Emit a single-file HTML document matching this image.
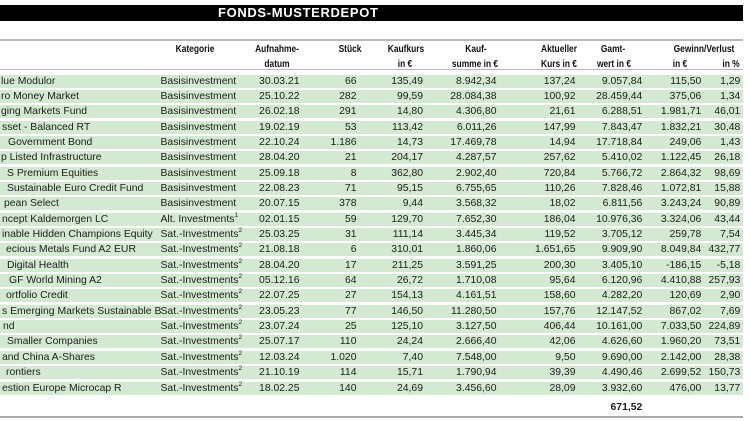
<!DOCTYPE html>
<html>
<head>
<meta charset="utf-8">
<style>
  html, body { margin:0; padding:0; background:#fff; }
  body { width:750px; height:421px; position:relative; overflow:hidden;
         font-family:"Liberation Sans", Arial, sans-serif; color:#1c1c1c; }
  .bar { position:absolute; left:0; top:4.5px; width:743px; height:16px; background:#000; }
  .title { position:absolute; left:218px; top:4.5px; height:16px; line-height:16px;
           color:#fff; font-weight:bold; font-size:13px; letter-spacing:0.65px; white-space:nowrap; }
  .hl { position:absolute; left:0; width:743px; height:1.5px; background:#b9b9b9; }
  .h { position:absolute; font-weight:bold; font-size:10.5px; line-height:12px; white-space:nowrap;
       width:100px; text-align:center; transform:scaleX(0.8); transform-origin:50% 50%; color:#111; }
  .row { position:absolute; left:0; width:743px; height:13px; background:#d4e9d2; font-size:10.4px; line-height:13px; }
  .row span { position:absolute; top:0; white-space:nowrap; }
  .n { left:1px; }
  .k { left:160.5px; }
  .d { right:443.5px; }
  .s { right:386.5px; }
  .kk { right:320px; }
  .ks { right:246.5px; }
  .ak { right:167.5px; }
  .gw { right:100.7px; }
  .ge { right:41.7px; }
  .gp { right:2.7px; }
  sup { font-size:6.5px; vertical-align:top; line-height:8px; position:relative; top:-1px; }
  .tot { position:absolute; right:107.7px; top:401.2px; font-size:10.4px; line-height:13px; font-weight:bold; }
</style>
</head>
<body>
<div class="bar"></div>
<div class="title">FONDS-MUSTERDEPOT</div>

<div class="hl" style="top:39px"></div>
<div class="hl" style="top:68.7px"></div>
<div class="hl" style="top:416px; background:#a9a9a9"></div>

<!-- header labels -->
<div class="h" style="left:145px; top:43.3px">Kategorie</div>
<div class="h" style="left:227px; top:43.3px">Aufnahme-</div>
<div class="h" style="left:227px; top:57.7px">datum</div>
<div class="h" style="left:300px; top:43.3px">Stück</div>
<div class="h" style="left:355.5px; top:43.3px">Kaufkurs</div>
<div class="h" style="left:355px; top:57.7px">in €</div>
<div class="h" style="left:426px; top:43.3px">Kauf-</div>
<div class="h" style="left:425px; top:57.7px">summe in €</div>
<div class="h" style="left:509px; top:43.3px">Aktueller</div>
<div class="h" style="left:509px; top:57.7px">Kurs in €</div>
<div class="h" style="left:563px; top:43.3px">Gamt-</div>
<div class="h" style="left:564px; top:57.7px">wert in €</div>
<div class="h" style="left:654px; top:43.3px">Gewinn/Verlust</div>
<div class="h" style="left:630px; top:57.7px">in €</div>
<div class="h" style="left:681px; top:57.7px">in %</div>

<div class="row" style="top:74.5px"><span class="n">lue Modulor</span><span class="k">Basisinvestment</span><span class="d">30.03.21</span><span class="s">66</span><span class="kk">135,49</span><span class="ks">8.942,34</span><span class="ak">137,24</span><span class="gw">9.057,84</span><span class="ge">115,50</span><span class="gp">1,29</span></div>
<div class="row" style="top:89.85px"><span class="n">ro Money Market</span><span class="k">Basisinvestment</span><span class="d">25.10.22</span><span class="s">282</span><span class="kk">99,59</span><span class="ks">28.084,38</span><span class="ak">100,92</span><span class="gw">28.459,44</span><span class="ge">375,06</span><span class="gp">1,34</span></div>
<div class="row" style="top:105.2px"><span class="n">ging Markets Fund</span><span class="k">Basisinvestment</span><span class="d">26.02.18</span><span class="s">291</span><span class="kk">14,80</span><span class="ks">4.306,80</span><span class="ak">21,61</span><span class="gw">6.288,51</span><span class="ge">1.981,71</span><span class="gp">46,01</span></div>
<div class="row" style="top:120.55px"><span class="n" style="left:2px">sset - Balanced RT</span><span class="k">Basisinvestment</span><span class="d">19.02.19</span><span class="s">53</span><span class="kk">113,42</span><span class="ks">6.011,26</span><span class="ak">147,99</span><span class="gw">7.843,47</span><span class="ge">1.832,21</span><span class="gp">30,48</span></div>
<div class="row" style="top:135.9px"><span class="n" style="left:8px">Government Bond</span><span class="k">Basisinvestment</span><span class="d">22.10.24</span><span class="s">1.186</span><span class="kk">14,73</span><span class="ks">17.469,78</span><span class="ak">14,94</span><span class="gw">17.718,84</span><span class="ge">249,06</span><span class="gp">1,43</span></div>
<div class="row" style="top:151.25px"><span class="n">p Listed Infrastructure</span><span class="k">Basisinvestment</span><span class="d">28.04.20</span><span class="s">21</span><span class="kk">204,17</span><span class="ks">4.287,57</span><span class="ak">257,62</span><span class="gw">5.410,02</span><span class="ge">1.122,45</span><span class="gp">26,18</span></div>
<div class="row" style="top:166.6px"><span class="n" style="left:7px">S Premium Equities</span><span class="k">Basisinvestment</span><span class="d">25.09.18</span><span class="s">8</span><span class="kk">362,80</span><span class="ks">2.902,40</span><span class="ak">720,84</span><span class="gw">5.766,72</span><span class="ge">2.864,32</span><span class="gp">98,69</span></div>
<div class="row" style="top:181.95px"><span class="n" style="left:7px">Sustainable Euro Credit Fund</span><span class="k">Basisinvestment</span><span class="d">22.08.23</span><span class="s">71</span><span class="kk">95,15</span><span class="ks">6.755,65</span><span class="ak">110,26</span><span class="gw">7.828,46</span><span class="ge">1.072,81</span><span class="gp">15,88</span></div>
<div class="row" style="top:197.3px"><span class="n" style="left:4px">pean Select</span><span class="k">Basisinvestment</span><span class="d">20.07.15</span><span class="s">378</span><span class="kk">9,44</span><span class="ks">3.568,32</span><span class="ak">18,02</span><span class="gw">6.811,56</span><span class="ge">3.243,24</span><span class="gp">90,89</span></div>
<div class="row" style="top:212.65px"><span class="n" style="left:2px">ncept Kaldemorgen LC</span><span class="k">Alt. Investments<sup>1</sup></span><span class="d">02.01.15</span><span class="s">59</span><span class="kk">129,70</span><span class="ks">7.652,30</span><span class="ak">186,04</span><span class="gw">10.976,36</span><span class="ge">3.324,06</span><span class="gp">43,44</span></div>
<div class="row" style="top:228px"><span class="n" style="left:2px">inable Hidden Champions Equity</span><span class="k">Sat.-Investments<sup>2</sup></span><span class="d">25.03.25</span><span class="s">31</span><span class="kk">111,14</span><span class="ks">3.445,34</span><span class="ak">119,52</span><span class="gw">3.705,12</span><span class="ge">259,78</span><span class="gp">7,54</span></div>
<div class="row" style="top:243.35px"><span class="n" style="left:6px">ecious Metals Fund A2 EUR</span><span class="k">Sat.-Investments<sup>2</sup></span><span class="d">21.08.18</span><span class="s">6</span><span class="kk">310,01</span><span class="ks">1.860,06</span><span class="ak">1.651,65</span><span class="gw">9.909,90</span><span class="ge">8.049,84</span><span class="gp">432,77</span></div>
<div class="row" style="top:258.7px"><span class="n" style="left:7px">Digital Health</span><span class="k">Sat.-Investments<sup>2</sup></span><span class="d">28.04.20</span><span class="s">17</span><span class="kk">211,25</span><span class="ks">3.591,25</span><span class="ak">200,30</span><span class="gw">3.405,10</span><span class="ge">-186,15</span><span class="gp">-5,18</span></div>
<div class="row" style="top:274.05px"><span class="n" style="left:9px">GF World Mining A2</span><span class="k">Sat.-Investments<sup>2</sup></span><span class="d">05.12.16</span><span class="s">64</span><span class="kk">26,72</span><span class="ks">1.710,08</span><span class="ak">95,64</span><span class="gw">6.120,96</span><span class="ge">4.410,88</span><span class="gp">257,93</span></div>
<div class="row" style="top:289.4px"><span class="n" style="left:6px">ortfolio Credit</span><span class="k">Sat.-Investments<sup>2</sup></span><span class="d">22.07.25</span><span class="s">27</span><span class="kk">154,13</span><span class="ks">4.161,51</span><span class="ak">158,60</span><span class="gw">4.282,20</span><span class="ge">120,69</span><span class="gp">2,90</span></div>
<div class="row" style="top:304.75px"><span class="n" style="left:2px">s Emerging Markets Sustainable B</span><span class="k">Sat.-Investments<sup>2</sup></span><span class="d">23.05.23</span><span class="s">77</span><span class="kk">146,50</span><span class="ks">11.280,50</span><span class="ak">157,76</span><span class="gw">12.147,52</span><span class="ge">867,02</span><span class="gp">7,69</span></div>
<div class="row" style="top:320.1px"><span class="n" style="left:3px">nd</span><span class="k">Sat.-Investments<sup>2</sup></span><span class="d">23.07.24</span><span class="s">25</span><span class="kk">125,10</span><span class="ks">3.127,50</span><span class="ak">406,44</span><span class="gw">10.161,00</span><span class="ge">7.033,50</span><span class="gp">224,89</span></div>
<div class="row" style="top:335.45px"><span class="n" style="left:7px">Smaller Companies</span><span class="k">Sat.-Investments<sup>2</sup></span><span class="d">25.07.17</span><span class="s">110</span><span class="kk">24,24</span><span class="ks">2.666,40</span><span class="ak">42,06</span><span class="gw">4.626,60</span><span class="ge">1.960,20</span><span class="gp">73,51</span></div>
<div class="row" style="top:350.8px"><span class="n" style="left:2px">and China A-Shares</span><span class="k">Sat.-Investments<sup>2</sup></span><span class="d">12.03.24</span><span class="s">1.020</span><span class="kk">7,40</span><span class="ks">7.548,00</span><span class="ak">9,50</span><span class="gw">9.690,00</span><span class="ge">2.142,00</span><span class="gp">28,38</span></div>
<div class="row" style="top:366.15px"><span class="n" style="left:6px">rontiers</span><span class="k">Sat.-Investments<sup>2</sup></span><span class="d">21.10.19</span><span class="s">114</span><span class="kk">15,71</span><span class="ks">1.790,94</span><span class="ak">39,39</span><span class="gw">4.490,46</span><span class="ge">2.699,52</span><span class="gp">150,73</span></div>
<div class="row" style="top:381.5px"><span class="n" style="left:2px">estion Europe Microcap R</span><span class="k">Sat.-Investments<sup>2</sup></span><span class="d">18.02.25</span><span class="s">140</span><span class="kk">24,69</span><span class="ks">3.456,60</span><span class="ak">28,09</span><span class="gw">3.932,60</span><span class="ge">476,00</span><span class="gp">13,77</span></div>

<div class="tot">671,52</div>
</body>
</html>
